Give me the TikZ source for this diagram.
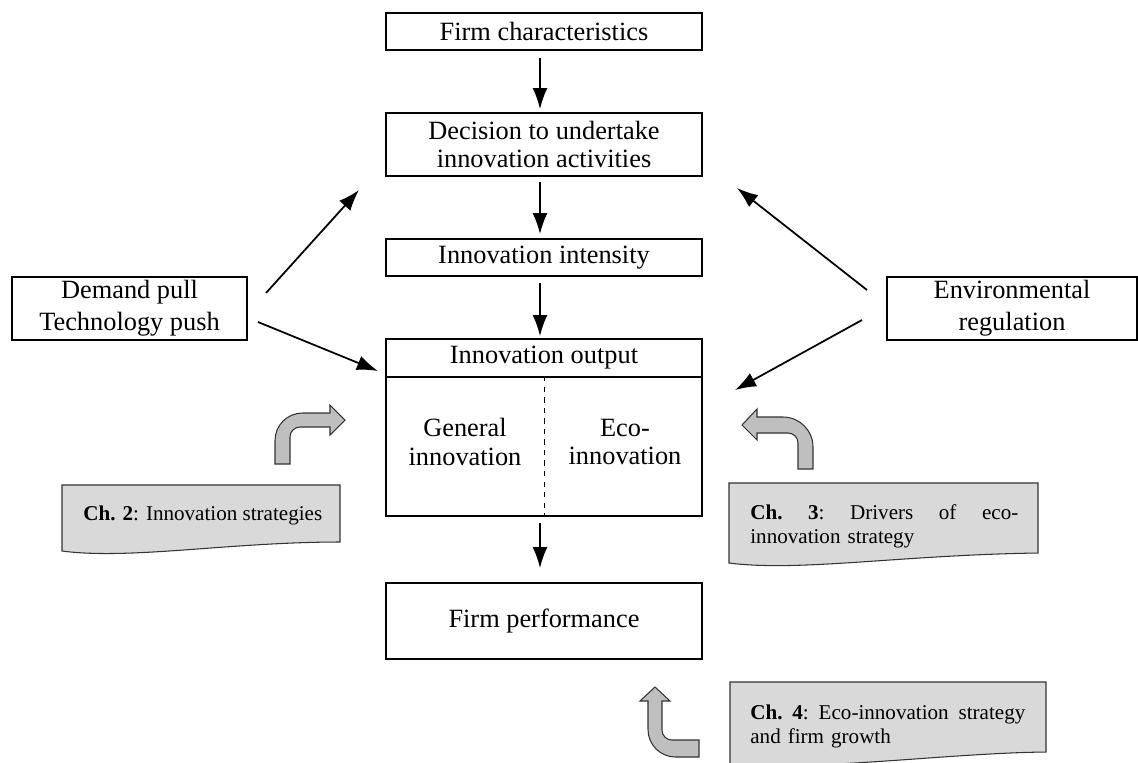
\documentclass[tikz,border=0pt]{standalone}
\usepackage{fontspec}
\setmainfont{Liberation Serif}
\usetikzlibrary{arrows.meta}

\begin{document}
\begin{tikzpicture}[x = 0.02cm, y = -0.02cm,
	box/.style = {draw, line width = 1pt, align = center, inner sep = 0pt, font = \fontsize{15}{16}\selectfont},
	lbl/.style = {align = center, inner sep = 0pt, font = \fontsize{15}{16}\selectfont},
	conn/.style = {-{Latex[length = 12pt, width = 8.5pt]}, line width = 1pt},
	bent/.style = {draw = black!80, fill = gray!50, line width = 0.6pt},
	note/.style = {draw = black!80, fill = gray!30, line width = 0.6pt},
	notetext/.style = {anchor = north west, inner sep = 0pt, align = left, font = \fontsize{12}{14}\selectfont}]
	\useasboundingbox (0,0) rectangle (1138,762);
	% main chain
	\node [box, minimum width = 6.32cm, minimum height = 0.74cm] (firm) at (544,31.5) {Firm characteristics};
	\node [box, minimum width = 6.32cm, minimum height = 1.26cm] (decision) at (544,144.5) {Decision to undertake\\innovation activities};
	\node [box, minimum width = 6.32cm, minimum height = 0.74cm] (intensity) at (544,257.5) {Innovation intensity};
	\node [box, minimum width = 6.32cm, minimum height = 0.76cm] (output) at (544,358) {Innovation output};
	\node [box, minimum width = 6.32cm, minimum height = 2.78cm] (outbody) at (544,446.5) {};
	\node [box, minimum width = 6.32cm, minimum height = 1.52cm] (perf) at (544,621) {Firm performance};
	\draw [dashed, line width = 0.5pt] (outbody.north) -- (outbody.south);
	\node [lbl] (general) at (465,442) {General\\innovation};
	\node [lbl] (eco) at (625,442) {Eco-\\innovation};
	% side boxes
	\node [box, font = \fontsize{15}{18}\selectfont, minimum width = 4.7cm, minimum height = 1.26cm] (demand) at (129.5,308.5) {Demand pull\\Technology push};
	\node [box, font = \fontsize{15}{18}\selectfont, minimum width = 5cm, minimum height = 1.26cm] (envreg) at (1012,308.5) {Environmental\\regulation};
	% arrows
	\draw [conn, shorten <= 0.14cm, shorten >= 0.06cm] ([xshift = -0.08cm]firm.south) -- ([xshift = -0.08cm]decision.north);
	\draw [conn, shorten <= 0.1cm, shorten >= 0.08cm] ([xshift = -0.08cm]decision.south) -- ([xshift = -0.08cm]intensity.north);
	\draw [conn, shorten <= 0.12cm, shorten >= 0.04cm] ([xshift = -0.08cm]intensity.south) -- ([xshift = -0.08cm]output.north);
	\draw [conn, shorten <= 0.12cm, shorten >= 0.28cm] ([xshift = -0.08cm]outbody.south) -- ([xshift = -0.08cm]perf.north);
	\coordinate (dpA) at (266,293);
	\coordinate (dpB) at (258,322);
	\coordinate (erA) at (867,290);
	\coordinate (erB) at (862,320);
	\coordinate (decL) at (359,190);
	\coordinate (decR) at (737,188);
	\coordinate (outL) at (378,371);
	\coordinate (outR) at (735,390);
	\draw [conn] (dpA) -- (decL);
	\draw [conn] (dpB) -- (outL);
	\draw [conn] (erA) -- (decR);
	\draw [conn] (erB) -- (outR);
	% bent arrows
	\draw [bent] (275,464) [rounded corners = 0.55cm] -- (275,413) [sharp corners] -- (330,413) -- (330,405) -- (345,420) -- (330,435) -- (330,427) [rounded corners = 0.2cm] -- (290,427) [sharp corners] -- (290,464) -- cycle;
	\draw [bent] (813,469) [rounded corners = 0.6cm] -- (813,417) [sharp corners] -- (757,417) -- (757,409) -- (742,425) -- (757,440) -- (757,433) [rounded corners = 0.2cm] -- (798,433) [sharp corners] -- (798,469) -- cycle;
	\draw [bent] (699,757) [rounded corners = 0.55cm] -- (648,757) [sharp corners] -- (648,701) -- (640,701) -- (655,687) -- (670,701) -- (662,701) [rounded corners = 0.2cm] -- (662,740) [sharp corners] -- (699,740) -- cycle;
	% chapter notes
	\draw [note] (62,485) -- (340,485) -- (340,542) .. controls (230,542) and (130,560) .. (62,551) -- cycle;
	\draw [note] (729,483) -- (1038,483) -- (1038,553) .. controls (900,555) and (800,572) .. (729,563) -- cycle;
	\draw [note] (730,682) -- (1046,682) -- (1046,752) .. controls (950,753) and (830,770) .. (730,765) -- cycle;
	\node [notetext] (chtwo) at (83,506) {\textbf{Ch. 2}: Innovation strategies};
	\node [notetext, text width = 5.36cm] (chthree) at (750,504) {\hbox to 5.36cm{\textbf{Ch.}\hfill\textbf{3}:\hfill Drivers\hfill of\hfill eco-}\\innovation strategy};
	\node [notetext, text width = 5.5cm] (chfour) at (750,704) {\hbox to 5.5cm{\textbf{Ch.}\hfill\textbf{4}:\hfill Eco-innovation\hfill strategy}\\and firm growth};
\end{tikzpicture}
\end{document}
